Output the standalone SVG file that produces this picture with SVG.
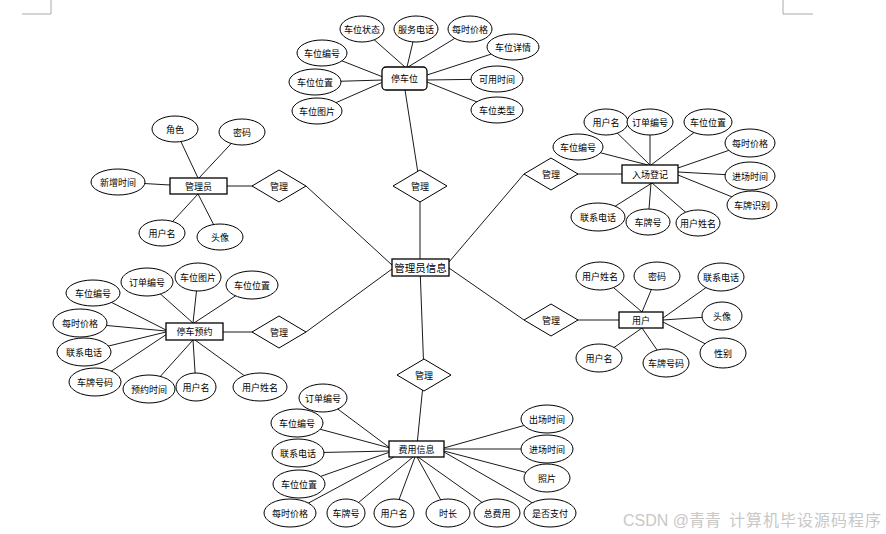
<svg xmlns="http://www.w3.org/2000/svg" width="886" height="534" viewBox="0 0 886 534">
<style>
text{font-family:"Noto Sans CJK SC","Liberation Sans",sans-serif;text-anchor:middle;dominant-baseline:central;fill:#000}
.t{font-size:9px}
.c line{stroke:#1a1a1a;stroke-width:1}
ellipse{fill:#fff;stroke:#000;stroke-width:1}
.e{fill:#fff;stroke:#000;stroke-width:1.3}
.d{fill:#fff;stroke:#000;stroke-width:1}
.m{stroke:#aaa;stroke-width:1;fill:none}
.w{font-family:"Liberation Sans","Noto Sans CJK SC",sans-serif;font-size:16px;fill:#c8c8c8;text-anchor:start;dominant-baseline:auto}
</style>
<rect width="886" height="534" fill="#fff"/>
<path class="m" d="M51,0V14H22M783,0V14H813"/>
<g class="c" id="connectors">
<line x1="362" y1="29" x2="405" y2="67"/><line x1="416" y1="29" x2="407" y2="67"/><line x1="470" y1="29" x2="408" y2="67"/><line x1="513" y1="47" x2="427" y2="75"/><line x1="322" y1="53" x2="383" y2="77"/><line x1="315" y1="82" x2="383" y2="80"/><line x1="317" y1="111" x2="383" y2="82"/><line x1="497" y1="79" x2="427" y2="80"/><line x1="497" y1="110" x2="427" y2="82"/>
<line x1="405" y1="90" x2="420" y2="186"/><line x1="420" y1="186" x2="420" y2="267"/>
<line x1="175" y1="129" x2="198" y2="178"/><line x1="242" y1="132" x2="199" y2="178"/><line x1="118" y1="182" x2="170" y2="185"/><line x1="162" y1="233" x2="198" y2="194"/><line x1="220" y1="237" x2="198" y2="194"/>
<line x1="227" y1="186" x2="279" y2="186"/><line x1="306" y1="186" x2="392" y2="265"/>
<line x1="606" y1="122" x2="650" y2="165"/><line x1="650" y1="122" x2="650" y2="165"/><line x1="708" y1="122" x2="651" y2="165"/><line x1="578" y1="147" x2="648" y2="165"/><line x1="750" y1="143" x2="678" y2="168"/><line x1="750" y1="176" x2="678" y2="172"/><line x1="752" y1="205" x2="678" y2="175"/><line x1="598" y1="217" x2="652" y2="183"/><line x1="648" y1="222" x2="651" y2="183"/><line x1="698" y1="223" x2="652" y2="183"/>
<line x1="551" y1="174" x2="622" y2="174"/><line x1="449" y1="262" x2="524" y2="174"/>
<line x1="147" y1="282" x2="193" y2="323"/><line x1="198" y1="277" x2="193" y2="323"/><line x1="252" y1="285" x2="194" y2="323"/><line x1="93" y1="293" x2="166" y2="330"/><line x1="80" y1="323" x2="166" y2="331"/><line x1="84" y1="352" x2="166" y2="332"/><line x1="95" y1="382" x2="167" y2="334"/><line x1="149" y1="389" x2="193" y2="340"/><line x1="196" y1="387" x2="193" y2="340"/><line x1="260" y1="387" x2="195" y2="340"/>
<line x1="223" y1="332" x2="279" y2="332"/><line x1="306" y1="332" x2="392" y2="269"/>
<line x1="600" y1="276" x2="642" y2="312"/><line x1="657" y1="276" x2="642" y2="312"/><line x1="721" y1="277" x2="663" y2="318"/><line x1="722" y1="316" x2="663" y2="320"/><line x1="723" y1="353" x2="663" y2="322"/><line x1="599" y1="358" x2="642" y2="328"/><line x1="666" y1="363" x2="642" y2="328"/>
<line x1="551" y1="320" x2="619" y2="320"/><line x1="449" y1="268" x2="524" y2="320"/>
<line x1="323" y1="398" x2="390" y2="448"/><line x1="297" y1="423" x2="390" y2="448"/><line x1="298" y1="453" x2="390" y2="451"/><line x1="299" y1="484" x2="390" y2="452"/><line x1="290" y1="513" x2="394" y2="457"/><line x1="346" y1="513" x2="413" y2="457"/><line x1="394" y1="513" x2="415" y2="457"/><line x1="448" y1="513" x2="417" y2="457"/><line x1="497" y1="513" x2="418" y2="457"/><line x1="550" y1="513" x2="444" y2="452"/><line x1="547" y1="419" x2="444" y2="448"/><line x1="547" y1="449" x2="444" y2="449"/><line x1="547" y1="478" x2="444" y2="451"/>
<line x1="420" y1="267" x2="424" y2="375"/><line x1="424" y1="375" x2="417" y2="445"/>
</g>
<g id="center"><rect class="e" x="392" y="259" width="57" height="17"/><text x="420.5" y="267.5" style="font-size:10.5px">管理员信息</text></g>
<g id="r_top"><polygon class="d" points="420,170 447,186 420,202 393,186"/><text class="t" x="420" y="186">管理</text></g>
<g id="r_admin"><polygon class="d" points="279,170 306,186 279,202 252,186"/><text class="t" x="279" y="186">管理</text></g>
<g id="r_entry"><polygon class="d" points="551,158 578,174 551,190 524,174"/><text class="t" x="551" y="174">管理</text></g>
<g id="r_reserve"><polygon class="d" points="279,316 306,332 279,348 252,332"/><text class="t" x="279" y="332">管理</text></g>
<g id="r_user"><polygon class="d" points="551,304 578,320 551,336 524,320"/><text class="t" x="551" y="320">管理</text></g>
<g id="r_fee"><polygon class="d" points="424,359 451,375 424,391 397,375"/><text class="t" x="424" y="375">管理</text></g>
<g id="parking">
<rect class="e" x="382" y="67" width="45" height="23" rx="4"/><text class="t" x="404.5" y="78.5">停车位</text>
<ellipse cx="362" cy="29" rx="22" ry="13"/><text class="t" x="362" y="29">车位状态</text>
<ellipse cx="416" cy="29" rx="22" ry="13"/><text class="t" x="416" y="29">服务电话</text>
<ellipse cx="470" cy="29" rx="22" ry="13"/><text class="t" x="470" y="29">每时价格</text>
<ellipse cx="513" cy="47" rx="26" ry="13"/><text class="t" x="513" y="47">车位详情</text>
<ellipse cx="322" cy="53" rx="25" ry="13"/><text class="t" x="322" y="53">车位编号</text>
<ellipse cx="315" cy="82" rx="26" ry="13"/><text class="t" x="315" y="82">车位位置</text>
<ellipse cx="317" cy="111" rx="25" ry="13"/><text class="t" x="317" y="111">车位图片</text>
<ellipse cx="497" cy="79" rx="26" ry="13"/><text class="t" x="497" y="79">可用时间</text>
<ellipse cx="497" cy="110" rx="26" ry="13"/><text class="t" x="497" y="110">车位类型</text>
</g>
<g id="admin">
<rect class="e" x="170" y="178" width="57" height="16"/><text class="t" x="198.5" y="186">管理员</text>
<ellipse cx="175" cy="129" rx="23" ry="13"/><text class="t" x="175" y="129">角色</text>
<ellipse cx="242" cy="132" rx="23" ry="13"/><text class="t" x="242" y="132">密码</text>
<ellipse cx="118" cy="182" rx="27" ry="13"/><text class="t" x="118" y="182">新增时间</text>
<ellipse cx="162" cy="233" rx="23" ry="13"/><text class="t" x="162" y="233">用户名</text>
<ellipse cx="220" cy="237" rx="23" ry="13"/><text class="t" x="220" y="237">头像</text>
</g>
<g id="entry">
<rect class="e" x="622" y="165" width="56" height="18"/><text class="t" x="650" y="174">入场登记</text>
<ellipse cx="606" cy="122" rx="22" ry="13"/><text class="t" x="606" y="122">用户名</text>
<ellipse cx="650" cy="122" rx="23" ry="13"/><text class="t" x="650" y="122">订单编号</text>
<ellipse cx="708" cy="122" rx="24" ry="13"/><text class="t" x="708" y="122">车位位置</text>
<ellipse cx="578" cy="147" rx="25" ry="13"/><text class="t" x="578" y="147">车位编号</text>
<ellipse cx="750" cy="143" rx="25" ry="14"/><text class="t" x="750" y="143">每时价格</text>
<ellipse cx="750" cy="176" rx="25" ry="14"/><text class="t" x="750" y="176">进场时间</text>
<ellipse cx="752" cy="205" rx="25" ry="14"/><text class="t" x="752" y="205">车牌识别</text>
<ellipse cx="598" cy="217" rx="27" ry="14"/><text class="t" x="598" y="217">联系电话</text>
<ellipse cx="648" cy="222" rx="22" ry="13"/><text class="t" x="648" y="222">车牌号</text>
<ellipse cx="698" cy="223" rx="22" ry="13"/><text class="t" x="698" y="223">用户姓名</text>
</g>
<g id="reserve">
<rect class="e" x="166" y="323" width="57" height="17"/><text class="t" x="194.5" y="331.5">停车预约</text>
<ellipse cx="147" cy="282" rx="26" ry="14"/><text class="t" x="147" y="282">订单编号</text>
<ellipse cx="198" cy="277" rx="23" ry="14"/><text class="t" x="198" y="277">车位图片</text>
<ellipse cx="252" cy="285" rx="26" ry="14"/><text class="t" x="252" y="285">车位位置</text>
<ellipse cx="93" cy="293" rx="27" ry="13"/><text class="t" x="93" y="293">车位编号</text>
<ellipse cx="80" cy="323" rx="27" ry="14"/><text class="t" x="80" y="323">每时价格</text>
<ellipse cx="84" cy="352" rx="27" ry="14"/><text class="t" x="84" y="352">联系电话</text>
<ellipse cx="95" cy="382" rx="26" ry="14"/><text class="t" x="95" y="382">车牌号码</text>
<ellipse cx="149" cy="389" rx="26" ry="14"/><text class="t" x="149" y="389">预约时间</text>
<ellipse cx="196" cy="387" rx="20" ry="14"/><text class="t" x="196" y="387">用户名</text>
<ellipse cx="260" cy="387" rx="27" ry="14"/><text class="t" x="260" y="387">用户姓名</text>
</g>
<g id="user">
<rect class="e" x="619" y="312" width="44" height="16"/><text class="t" x="641" y="320">用户</text>
<ellipse cx="600" cy="276" rx="24" ry="14"/><text class="t" x="600" y="276">用户姓名</text>
<ellipse cx="657" cy="276" rx="23" ry="14"/><text class="t" x="657" y="276">密码</text>
<ellipse cx="721" cy="277" rx="23" ry="14"/><text class="t" x="721" y="277">联系电话</text>
<ellipse cx="722" cy="316" rx="20" ry="14"/><text class="t" x="722" y="316">头像</text>
<ellipse cx="723" cy="353" rx="23" ry="15"/><text class="t" x="723" y="353">性别</text>
<ellipse cx="599" cy="358" rx="23" ry="14"/><text class="t" x="599" y="358">用户名</text>
<ellipse cx="666" cy="363" rx="23" ry="14"/><text class="t" x="666" y="363">车牌号码</text>
</g>
<g id="fee">
<rect class="e" x="389" y="441" width="55" height="16"/><text class="t" x="416.5" y="449">费用信息</text>
<ellipse cx="323" cy="398" rx="24" ry="14"/><text class="t" x="323" y="398">订单编号</text>
<ellipse cx="297" cy="423" rx="26" ry="14"/><text class="t" x="297" y="423">车位编号</text>
<ellipse cx="298" cy="453" rx="26" ry="14"/><text class="t" x="298" y="453">联系电话</text>
<ellipse cx="299" cy="484" rx="26" ry="14"/><text class="t" x="299" y="484">车位位置</text>
<ellipse cx="290" cy="513" rx="26" ry="14"/><text class="t" x="290" y="513">每时价格</text>
<ellipse cx="346" cy="513" rx="19" ry="14"/><text class="t" x="346" y="513">车牌号</text>
<ellipse cx="394" cy="513" rx="20" ry="14"/><text class="t" x="394" y="513">用户名</text>
<ellipse cx="448" cy="513" rx="22" ry="14"/><text class="t" x="448" y="513">时长</text>
<ellipse cx="497" cy="513" rx="23" ry="14"/><text class="t" x="497" y="513">总费用</text>
<ellipse cx="550" cy="513" rx="26" ry="14"/><text class="t" x="550" y="513">是否支付</text>
<ellipse cx="547" cy="419" rx="26" ry="14"/><text class="t" x="547" y="419">出场时间</text>
<ellipse cx="547" cy="449" rx="26" ry="14"/><text class="t" x="547" y="449">进场时间</text>
<ellipse cx="547" cy="478" rx="23" ry="14"/><text class="t" x="547" y="478">照片</text>
</g>
<text class="w" x="623" y="526">CSDN @青青</text>
<text class="w" x="729" y="526" style="letter-spacing:1px">计算机毕设源码程序</text>
</svg>
